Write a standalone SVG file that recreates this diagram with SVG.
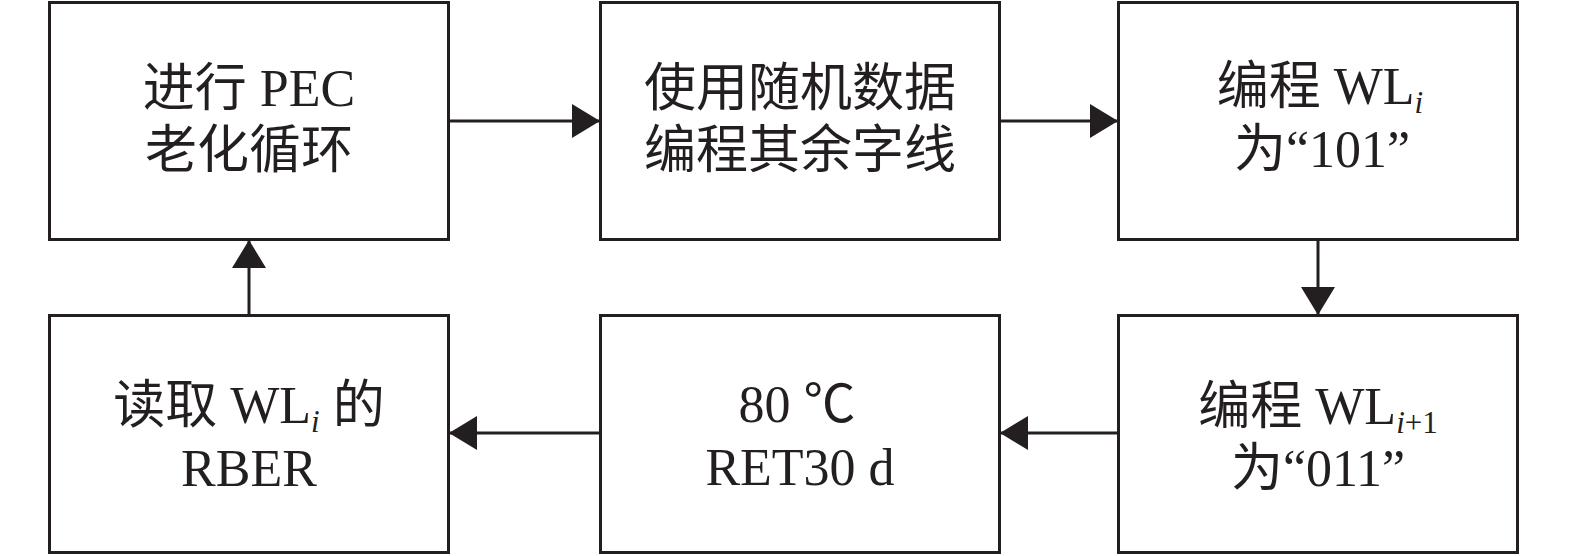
<svg xmlns="http://www.w3.org/2000/svg" width="1575" height="556" viewBox="0 0 1575 556">
<style>
.box{fill:#fff;stroke:#231f20;stroke-width:3}
.t{font-family:"Liberation Serif","Noto Sans CJK SC",serif;font-size:52px;fill:#231f20;text-anchor:middle}
.sub{font-size:31px;font-style:italic}
.subn{font-size:31px}
.c{stroke:#231f20;stroke-width:3;fill:none}
</style>
<defs>
<marker id="ah" viewBox="0 0 28 34" refX="28" refY="17" markerWidth="28" markerHeight="34" markerUnits="userSpaceOnUse" orient="auto">
<path d="M0,0 L28,17 L0,34 Z" fill="#231f20"/>
</marker>
</defs>
<rect width="1575" height="556" fill="#fff"/>
<g id="n1"><rect class="box" x="49.5" y="2.5" width="399" height="237"/>
<text class="t" x="249" y="106">进行 PEC</text>
<text class="t" x="249" y="168">老化循环</text></g>
<g id="n2"><rect class="box" x="600.5" y="2.5" width="399" height="237"/>
<text class="t" x="800" y="106">使用随机数据</text>
<text class="t" x="800" y="168">编程其余字线</text></g>
<g id="n3"><rect class="box" x="1118.5" y="2.5" width="399" height="237"/>
<text class="t" x="1320" y="104">编程 WL<tspan class="sub" dy="9">i</tspan></text>
<text class="t" x="1322" y="167">为“101”</text></g>
<g id="n6"><rect class="box" x="1118.5" y="315.5" width="399" height="237"/>
<text class="t" x="1318" y="424">编程 WL<tspan class="sub" dy="9">i</tspan><tspan class="subn">+1</tspan></text>
<text class="t" x="1318" y="486">为“011”</text></g>
<g id="n5"><rect class="box" x="600.5" y="315.5" width="399" height="237"/>
<text class="t" x="797" y="422">80 ℃</text>
<text class="t" x="800" y="485">RET30 d</text></g>
<g id="n4"><rect class="box" x="49.5" y="315.5" width="399" height="237"/>
<text class="t" x="249" y="423">读取 WL<tspan class="sub" dy="9">i</tspan><tspan dy="-9"> 的</tspan></text>
<text class="t" x="249" y="486">RBER</text></g>
<g id="connectors">
<line class="c" x1="449" y1="121" x2="600" y2="121" marker-end="url(#ah)"/>
<line class="c" x1="1000" y1="121" x2="1118" y2="121" marker-end="url(#ah)"/>
<line class="c" x1="1318" y1="240" x2="1318" y2="315" marker-end="url(#ah)"/>
<line class="c" x1="1118" y1="433" x2="1000" y2="433" marker-end="url(#ah)"/>
<line class="c" x1="600" y1="433" x2="449" y2="433" marker-end="url(#ah)"/>
<line class="c" x1="249" y1="315" x2="249" y2="240" marker-end="url(#ah)"/>
</g>
</svg>
